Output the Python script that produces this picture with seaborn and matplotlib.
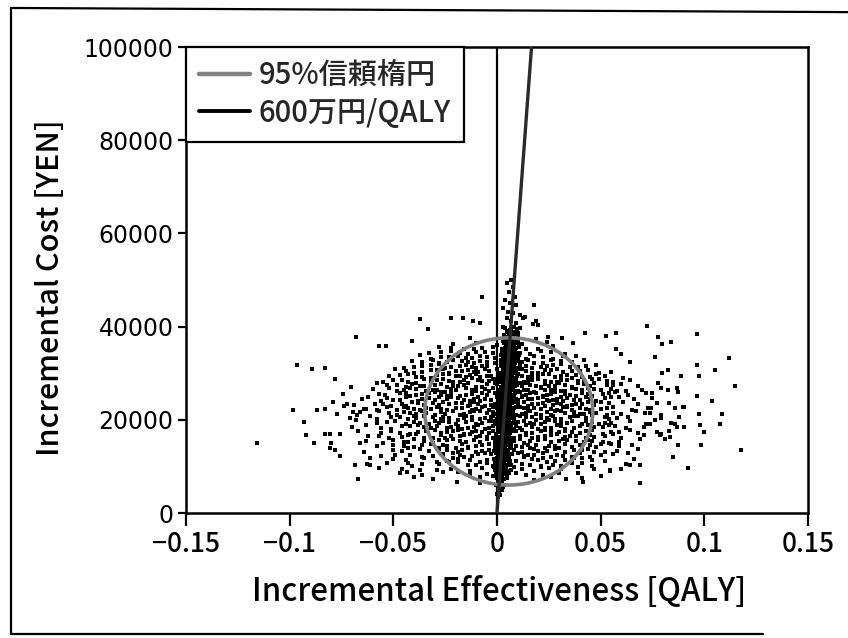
import pandas as pd
import matplotlib
matplotlib.use("Agg")
import matplotlib.pyplot as plt
from matplotlib.patches import Ellipse
from matplotlib.lines import Line2D
import seaborn as sns

# ---------------------------------------------------------------------------
# Probabilistic sensitivity analysis results
# each point: (incremental effectiveness [1e-3 QALY], incremental cost [1000 yen])
# ---------------------------------------------------------------------------
outer_points = [
    (-115.8, 15.0), (-96.6, 31.7), (-89.4, 31.0), (-83.0, 31.1), (-98.3, 22.2),
    (-93.1, 19.5), (-92.0, 16.7), (-88.3, 15.1), (-87.0, 22.2), (-83.0, 22.3),
    (-78.0, 28.8), (-70.6, 27.1), (-74.2, 25.5), (-79.3, 23.9), (-72.5, 23.3),
    (-77.0, 21.2), (-83.0, 16.9), (-80.6, 16.9), (-75.8, 17.0), (-80.0, 15.0),
    (-80.6, 14.0), (-78.0, 13.5), (-75.8, 12.3), (-68.5, 10.2), (-62.6, 10.5),
    (-61.0, 10.2), (-67.2, 7.3), (-42.8, 10.7), (-40.0, 7.8), (-43.6, 8.9),
    (-66.0, 15.0), (-70.0, 18.5), (-69.5, 21.7), (-67.6, 21.0), (-64.0, 22.4),
    (-68.0, 37.8), (-57.0, 35.9), (-53.3, 35.9), (-41.0, 37.0), (-37.2, 41.6),
    (-33.5, 39.5), (-22.0, 41.8), (-16.3, 41.8), (-11.5, 41.1), (-8.3, 40.8),
    (-7.0, 46.4), (-19.5, 6.7), (-8.3, 6.4),
    (72.5, 40.1), (52.8, 38.0), (57.6, 38.6), (77.7, 37.8), (79.8, 36.3),
    (83.8, 36.8), (96.4, 38.4), (112.0, 33.3), (57.6, 35.2), (60.0, 34.1),
    (64.0, 32.5), (76.0, 33.4), (96.4, 31.8), (105.0, 30.7), (88.6, 29.5),
    (97.3, 29.5), (82.3, 30.7), (79.8, 30.0), (115.0, 27.3), (87.0, 26.8),
    (89.6, 22.8), (96.3, 25.1), (103.5, 24.0), (97.3, 21.2), (108.7, 21.2),
    (107.4, 19.0), (99.8, 17.4), (97.7, 18.9), (90.0, 18.5), (87.0, 18.5),
    (85.7, 19.1), (98.5, 14.7), (117.5, 13.5), (92.0, 9.6), (84.9, 12.0),
    (68.8, 6.4), (54.7, 9.1), (64.0, 10.3), (69.0, 10.3), (83.3, 16.4),
    (87.3, 14.7), (79.0, 20.4), (84.0, 19.3), (90.0, 22.7), (78.5, 16.7),
    (77.0, 17.4), (74.5, 22.5), (73.7, 21.4), (71.5, 21.4), (72.0, 19.0),
    (75.0, 25.7), (79.3, 26.8), (82.5, 26.4), (77.7, 27.8), (87.3, 26.0),
    (83.0, 23.6), (86.0, 22.5), (88.0, 20.6), (83.0, 17.6), (79.0, 17.0),
    (81.0, 15.9),
    (17.7, 44.6), (13.4, 42.1), (17.4, 40.6), (19.8, 40.3), (31.6, 37.5),
    (36.7, 36.5), (42.3, 38.6), (24.6, 37.8), (19.0, 41.1),
    (26.2, 7.8), (33.5, 7.4), (41.5, 6.7), (54.4, 9.2),
]

cloud_points = [
    (-31, 7.3), (-8, 7.8), (18, 7.1), (41, 7.6),
    (-47, 8.6), (-26, 8.9), (-13, 8.4), (4, 8.7), (14, 8.2), (30, 8.5), (50, 8.0),
    (-57, 9.7), (-37, 9.2), (-22, 9.5), (-13, 9.0), (-1, 9.3), (8, 9.8), (18, 9.1),
    (25, 9.6), (39, 9.9), (60, 9.4),
    (-53, 10.8), (-41, 10.1), (-28, 10.6), (-19, 10.9), (-10, 10.4), (-5, 10.7),
    (7, 10.2), (12, 10.5), (21, 10.0), (27, 10.3), (36, 10.8), (46, 10.1), (62, 10.6),
    (-61, 11.9), (-44, 11.4), (-35, 11.7), (-24, 11.2), (-19, 11.5), (-8, 11.0),
    (-5, 11.3), (3, 11.8), (9, 11.1), (17, 11.6), (22, 11.9), (33, 11.4), (41, 11.7),
    (52, 11.2), (66, 11.5),
    (-56, 12.2), (-49, 12.5), (-36, 12.0), (-31, 12.3), (-21, 12.8), (-16, 12.1),
    (-9, 12.6), (-6, 12.9), (2, 12.4), (6, 12.7), (13, 12.2), (18, 12.5), (26, 12.0),
    (32, 12.3), (40, 12.8), (45, 12.1), (56, 12.6), (63, 12.9),
    (-64, 13.1), (-50, 13.6), (-43, 13.9), (-33, 13.4), (-28, 13.7), (-19, 13.2),
    (-17, 13.5), (-10, 13.0), (-7, 13.3), (0, 13.8), (5, 13.1), (8, 13.6), (16, 13.9),
    (20, 13.4), (28, 13.7), (33, 13.2), (41, 13.5), (47, 13.0), (58, 13.3), (68, 13.8),
    (-58, 14.4), (-50, 14.7), (-40, 14.2), (-36, 14.5), (-28, 14.0), (-24, 14.3),
    (-17, 14.8), (-14, 14.1), (-7, 14.6), (-4, 14.9), (1, 14.4), (4, 14.7), (12, 14.2),
    (15, 14.5), (23, 14.0), (25, 14.3), (33, 14.8), (36, 14.1), (45, 14.6), (50, 14.9),
    (59, 14.4), (65, 14.7),
    (-63, 15.5), (-55, 15.0), (-45, 15.3), (-40, 15.8), (-31, 15.1), (-28, 15.6),
    (-21, 15.9), (-18, 15.4), (-11, 15.7), (-8, 15.2), (-1, 15.5), (3, 15.0), (5, 15.3),
    (11, 15.8), (13, 15.1), (20, 15.6), (23, 15.9), (30, 15.4), (34, 15.7), (42, 15.2),
    (46, 15.5), (54, 15.0), (59, 15.3), (69, 15.8),
    (-62, 16.6), (-52, 16.1), (-46, 16.4), (-39, 16.9), (-35, 16.2), (-27, 16.7),
    (-25, 16.0), (-18, 16.5), (-16, 16.8), (-10, 16.3), (-8, 16.6), (-2, 16.1),
    (0, 16.4), (6, 16.9), (8, 16.2), (14, 16.7), (17, 16.0), (23, 16.5), (26, 16.8),
    (33, 16.3), (35, 16.6), (43, 16.1), (47, 16.4), (56, 16.9), (60, 16.2), (71, 16.7),
    (-67, 17.7), (-56, 17.2), (-51, 17.5), (-42, 17.0), (-38, 17.3), (-30, 17.8),
    (-27, 17.1), (-21, 17.6), (-19, 17.9), (-12, 17.4), (-10, 17.7), (-4, 17.2),
    (-2, 17.5), (4, 17.0), (6, 17.3), (12, 17.8), (14, 17.1), (21, 17.6), (23, 17.9),
    (30, 17.4), (33, 17.7), (40, 17.2), (43, 17.5), (51, 17.0), (55, 17.3), (64, 17.8),
    (68, 17.1),
    (-63, 18.8), (-51, 18.1), (-46, 18.6), (-38, 18.9), (-35, 18.4), (-29, 18.7),
    (-24, 18.2), (-22, 18.5), (-17, 18.0), (-14, 18.3), (-9, 18.8), (-6, 18.1),
    (-2, 18.6), (1, 18.9), (4, 18.4), (9, 18.7), (11, 18.2), (17, 18.5), (20, 18.0),
    (26, 18.3), (29, 18.8), (33, 18.1), (40, 18.6), (44, 18.9), (51, 18.4), (57, 18.7),
    (62, 18.2), (71, 18.5),
    (-68, 19.9), (-58, 19.4), (-49, 19.7), (-44, 19.2), (-40, 19.5), (-33, 19.0),
    (-28, 19.3), (-26, 19.8), (-20, 19.1), (-15, 19.6), (-12, 19.9), (-7, 19.4),
    (-4, 19.7), (-1, 19.2), (3, 19.5), (6, 19.0), (8, 19.3), (13, 19.8), (18, 19.1),
    (23, 19.6), (25, 19.9), (31, 19.4), (36, 19.7), (41, 19.2), (46, 19.5), (49, 19.0),
    (55, 19.3), (64, 19.8), (74, 19.1),
    (-71, 20.3), (-61, 20.8), (-58, 20.1), (-47, 20.6), (-40, 20.9), (-39, 20.4),
    (-31, 20.7), (-27, 20.2), (-26, 20.5), (-19, 20.0), (-16, 20.3), (-15, 20.8),
    (-8, 20.1), (-3, 20.6), (-2, 20.9), (2, 20.4), (7, 20.7), (8, 20.2), (14, 20.5),
    (19, 20.0), (21, 20.3), (27, 20.8), (28, 20.1), (35, 20.6), (39, 20.9), (43, 20.4),
    (52, 20.7), (54, 20.2), (63, 20.5), (76, 20.0),
    (-66, 21.6), (-57, 21.9), (-52, 21.4), (-45, 21.7), (-39, 21.2), (-34, 21.5),
    (-30, 21.0), (-25, 21.3), (-21, 21.8), (-18, 21.1), (-13, 21.6), (-11, 21.9),
    (-5, 21.4), (-2, 21.7), (1, 21.2), (5, 21.5), (9, 21.0), (12, 21.3), (16, 21.8),
    (21, 21.1), (24, 21.6), (28, 21.9), (33, 21.4), (37, 21.7), (42, 21.2), (48, 21.5),
    (53, 21.0), (60, 21.3), (67, 21.8), (79, 21.1),
    (-74, 22.9), (-63, 22.4), (-53, 22.7), (-48, 22.2), (-43, 22.5), (-37, 22.0),
    (-32, 22.3), (-29, 22.8), (-24, 22.1), (-20, 22.6), (-14, 22.9), (-10, 22.4),
    (-7, 22.7), (-4, 22.2), (0, 22.5), (4, 22.0), (7, 22.3), (11, 22.8), (15, 22.1),
    (18, 22.6), (23, 22.9), (26, 22.4), (32, 22.7), (36, 22.2), (40, 22.5), (45, 22.0),
    (50, 22.3), (56, 22.8), (65, 22.1), (73, 22.6),
    (-69, 23.2), (-59, 23.5), (-51, 23.0), (-46, 23.3), (-41, 23.8), (-35, 23.1),
    (-31, 23.6), (-26, 23.9), (-23, 23.4), (-17, 23.7), (-13, 23.2), (-9, 23.5),
    (-6, 23.0), (-1, 23.3), (2, 23.8), (6, 23.1), (10, 23.6), (13, 23.9), (17, 23.4),
    (22, 23.7), (27, 23.2), (31, 23.5), (34, 23.0), (38, 23.3), (44, 23.8), (47, 23.1),
    (54, 23.6), (61, 23.9), (68, 23.4), (77, 23.7),
    (-65, 24.5), (-56, 24.0), (-50, 24.3), (-44, 24.8), (-38, 24.1), (-33, 24.6),
    (-28, 24.9), (-24, 24.4), (-19, 24.7), (-16, 24.2), (-11, 24.5), (-8, 24.0),
    (-3, 24.3), (0, 24.8), (3, 24.1), (8, 24.6), (12, 24.9), (15, 24.4), (20, 24.7),
    (24, 24.2), (29, 24.5), (32, 24.0), (37, 24.3), (43, 24.8), (48, 24.1), (52, 24.6),
    (59, 24.9), (66, 24.4), (75, 24.7),
    (-62, 25.0), (-54, 25.3), (-47, 25.8), (-42, 25.1), (-36, 25.6), (-30, 25.9),
    (-27, 25.4), (-22, 25.7), (-18, 25.2), (-12, 25.5), (-9, 25.0), (-5, 25.3),
    (-1, 25.8), (2, 25.1), (6, 25.6), (9, 25.9), (14, 25.4), (19, 25.7), (22, 25.2),
    (26, 25.5), (31, 25.0), (35, 25.3), (41, 25.8), (46, 25.1), (51, 25.6), (57, 25.9),
    (63, 25.4), (72, 25.7),
    (-60, 26.6), (-52, 26.9), (-45, 26.4), (-39, 26.7), (-34, 26.2), (-29, 26.5),
    (-25, 26.0), (-20, 26.3), (-15, 26.8), (-10, 26.1), (-6, 26.6), (-2, 26.9),
    (1, 26.4), (5, 26.7), (10, 26.2), (13, 26.5), (18, 26.0), (23, 26.3), (28, 26.8),
    (33, 26.1), (38, 26.6), (44, 26.9), (50, 26.4), (55, 26.7), (62, 26.2), (70, 26.5),
    (-58, 27.9), (-48, 27.4), (-41, 27.7), (-35, 27.2), (-30, 27.5), (-24, 27.0),
    (-19, 27.3), (-14, 27.8), (-10, 27.1), (-5, 27.6), (-1, 27.9), (3, 27.4), (7, 27.7),
    (12, 27.2), (16, 27.5), (21, 27.0), (25, 27.3), (30, 27.8), (36, 27.1), (42, 27.6),
    (47, 27.9), (53, 27.4), (60, 27.7), (68, 27.2),
    (-55, 28.2), (-46, 28.5), (-39, 28.0), (-32, 28.3), (-26, 28.8), (-21, 28.1),
    (-16, 28.6), (-12, 28.9), (-7, 28.4), (-2, 28.7), (2, 28.2), (6, 28.5), (11, 28.0),
    (15, 28.3), (20, 28.8), (26, 28.1), (31, 28.6), (36, 28.9), (42, 28.4), (49, 28.7),
    (56, 28.2), (64, 28.5),
    (-52, 29.3), (-43, 29.8), (-36, 29.1), (-29, 29.6), (-23, 29.9), (-18, 29.4),
    (-13, 29.7), (-8, 29.2), (-3, 29.5), (1, 29.0), (5, 29.3), (10, 29.8), (15, 29.1),
    (20, 29.6), (25, 29.9), (31, 29.4), (38, 29.7), (45, 29.2), (52, 29.5), (61, 29.0),
    (-49, 30.8), (-40, 30.1), (-32, 30.6), (-26, 30.9), (-20, 30.4), (-14, 30.7),
    (-9, 30.2), (-4, 30.5), (1, 30.0), (6, 30.3), (12, 30.8), (17, 30.1), (23, 30.6),
    (29, 30.9), (36, 30.4), (44, 30.7), (55, 30.2),
    (-45, 31.1), (-36, 31.6), (-28, 31.9), (-22, 31.4), (-15, 31.7), (-10, 31.2),
    (-5, 31.5), (0, 31.0), (5, 31.3), (11, 31.8), (17, 31.1), (24, 31.6), (31, 31.9),
    (39, 31.4), (48, 31.7),
    (-41, 32.6), (-31, 32.9), (-24, 32.4), (-17, 32.7), (-11, 32.2), (-5, 32.5),
    (2, 32.0), (8, 32.3), (15, 32.8), (22, 32.1), (31, 32.6), (42, 32.9),
    (-37, 33.9), (-27, 33.4), (-19, 33.7), (-12, 33.2), (-5, 33.5), (3, 33.0),
    (10, 33.3), (18, 33.8), (27, 33.1), (38, 33.6),
    (-33, 34.4), (-22, 34.7), (-14, 34.2), (-6, 34.5), (2, 34.0), (11, 34.3),
    (21, 34.8), (33, 34.1),
    (-28, 35.7), (-16, 35.2), (-7, 35.5), (3, 35.0), (14, 35.3), (27, 35.8),
    (-21, 36.2), (-10, 36.5), (0, 36.0), (12, 36.3), (24, 36.8),
    (-13, 37.5), (4, 37.0), (19, 37.3),
]

core_points = [
    (-36, 8.25), (-19, 8.75), (-5, 8.35), (9, 8.65), (22, 8.15), (39, 8.55),
    (-46, 9.45), (-29, 9.25), (-7, 9.65), (4, 9.15), (12, 9.45), (21, 9.85), (31, 9.35),
    (47, 9.55),
    (-36, 10.45), (-23, 10.95), (-14, 10.25), (-1, 10.75), (3, 10.55), (16, 10.35),
    (24, 10.85), (31, 10.15), (41, 10.65),
    (-50, 11.65), (-29, 11.05), (-21, 11.85), (-13, 11.35), (0, 11.55), (6, 11.25),
    (13, 11.95), (20, 11.45), (28, 11.15), (37, 11.75), (46, 11.35),
    (-42, 12.35), (-26, 12.65), (-18, 12.45), (-12, 12.25), (-3, 12.75), (4, 12.15),
    (10, 12.85), (15, 12.35), (22, 12.95), (29, 12.55), (36, 12.05), (50, 12.45),
    (-46, 13.25), (-37, 13.75), (-24, 13.45), (-14, 13.95), (-4, 13.55), (2, 13.35),
    (12, 13.15), (18, 13.65), (24, 13.25), (30, 13.85), (37, 13.45), (44, 13.65),
    (52, 13.15),
    (-45, 14.35), (-32, 14.85), (-26, 14.55), (-20, 14.05), (-10, 14.45), (-1, 14.25),
    (7, 14.85), (9, 14.35), (19, 14.65), (28, 14.45), (30, 14.05), (40, 14.55),
    (48, 14.25), (55, 14.75),
    (-50, 15.65), (-43, 15.15), (-35, 15.45), (-24, 15.75), (-15, 15.25), (-5, 15.95),
    (0, 15.65), (8, 15.35), (16, 15.45), (26, 15.15), (32, 15.95), (38, 15.55),
    (44, 15.75), (51, 15.25),
    (-57, 16.45), (-43, 16.75), (-31, 16.15), (-22, 16.55), (-13, 16.95), (-5, 16.35),
    (3, 16.65), (11, 16.45), (20, 16.25), (29, 16.95), (38, 16.45), (45, 16.75),
    (52, 16.55),
    (-47, 17.25), (-34, 17.65), (-24, 17.35), (-16, 17.05), (-7, 17.45), (1, 17.85),
    (9, 17.55), (17, 17.25), (26, 17.65), (36, 17.35), (46, 17.85), (59, 17.45),
    (-56, 18.35), (-42, 18.65), (-32, 18.15), (-19, 18.75), (-11, 18.45), (-4, 18.25),
    (7, 18.55), (14, 18.85), (23, 18.35), (31, 18.65), (37, 18.25), (47, 18.45),
    (54, 18.95),
    (-53, 19.55), (-37, 19.25), (-30, 19.75), (-23, 19.45), (-10, 19.05), (-2, 19.85),
    (10, 19.55), (16, 19.35), (21, 19.15), (28, 19.75), (34, 19.35), (43, 19.65),
    (52, 19.25),
    (-51, 20.55), (-43, 20.15), (-35, 20.85), (-23, 20.45), (-12, 20.65), (-6, 20.35),
    (4, 20.15), (11, 20.85), (17, 20.55), (24, 20.45), (31, 20.25), (37, 20.75),
    (46, 20.95), (58, 20.35),
    (-48, 21.05), (-42, 21.45), (-36, 21.85), (-27, 21.65), (-16, 21.25), (-8, 21.95),
    (-1, 21.35), (7, 21.75), (14, 21.55), (19, 21.25), (26, 21.05), (31, 21.85),
    (40, 21.35), (45, 21.65), (56, 21.45),
    (-58, 22.15), (-45, 22.65), (-40, 22.35), (-34, 22.55), (-27, 22.25), (-17, 22.45),
    (-12, 22.05), (-2, 22.85), (2, 22.35), (9, 22.65), (13, 22.45), (21, 22.25),
    (29, 22.05), (34, 22.75), (43, 22.35), (53, 22.55),
    (-55, 23.45), (-44, 23.05), (-38, 23.65), (-28, 23.25), (-20, 23.55), (-11, 23.85),
    (-3, 23.15), (4, 23.45), (8, 23.75), (15, 23.05), (20, 23.35), (25, 23.95),
    (29, 23.55), (36, 23.15), (41, 23.45), (50, 23.75),
    (-53, 24.65), (-47, 24.15), (-36, 24.45), (-30, 24.25), (-22, 24.85), (-13, 24.05),
    (-6, 24.55), (1, 24.35), (6, 24.75), (10, 24.25), (17, 24.55), (22, 24.95),
    (27, 24.35), (34, 24.65), (40, 24.15), (45, 24.45), (55, 24.85),
    (-57, 25.45), (-44, 25.65), (-39, 25.25), (-33, 25.75), (-24, 25.05), (-15, 25.35),
    (-7, 25.85), (0, 25.55), (4, 25.25), (12, 25.05), (16, 25.65), (24, 25.35),
    (28, 25.95), (33, 25.55), (38, 25.15), (44, 25.45), (54, 25.75),
    (-48, 26.25), (-42, 26.75), (-31, 26.45), (-27, 26.05), (-22, 26.65), (-12, 26.35),
    (-4, 26.15), (3, 26.85), (7, 26.55), (11, 26.05), (15, 26.35), (21, 26.75),
    (26, 26.45), (31, 26.25), (36, 26.85), (41, 26.35), (47, 26.55), (58, 26.15),
    (-53, 27.55), (-44, 27.05), (-37, 27.35), (-27, 27.65), (-21, 27.25), (-16, 27.45),
    (-7, 27.05), (0, 27.75), (5, 27.25), (9, 27.55), (14, 27.85), (19, 27.35),
    (23, 27.65), (28, 27.15), (33, 27.45), (39, 27.85), (45, 27.35), (56, 27.55),
    (-50, 28.45), (-43, 28.05), (-35, 28.75), (-29, 28.55), (-23, 28.35), (-18, 28.05),
    (-9, 28.65), (-4, 28.25), (0, 28.85), (9, 28.45), (13, 28.15), (17, 28.65),
    (23, 28.35), (29, 28.05), (34, 28.55), (39, 28.25), (46, 28.85), (53, 28.35),
    (-47, 29.55), (-39, 29.25), (-32, 29.05), (-26, 29.75), (-20, 29.35), (-15, 29.15),
    (-10, 29.85), (-5, 29.45), (3, 29.65), (7, 29.05), (12, 29.45), (17, 29.35),
    (22, 29.75), (28, 29.25), (34, 29.55), (41, 29.15), (48, 29.85),
    (-44, 30.45), (-36, 30.25), (-29, 30.75), (-23, 30.15), (-17, 30.55), (-11, 30.35),
    (-6, 30.85), (3, 30.65), (9, 30.25), (14, 30.45), (20, 30.15), (26, 30.75),
    (32, 30.35), (40, 30.55), (49, 30.05),
    (-40, 31.35), (-32, 31.85), (-25, 31.15), (-18, 31.55), (-12, 31.25), (-7, 31.65),
    (2, 31.45), (8, 31.15), (14, 31.55), (21, 31.35), (27, 31.75), (35, 31.25),
    (43, 31.55),
    (-36, 32.45), (-28, 32.15), (-21, 32.75), (-14, 32.35), (-8, 32.55), (-1, 32.25),
    (5, 32.65), (12, 32.45), (18, 32.15), (26, 32.75), (36, 32.35),
    (-32, 33.15), (-23, 33.55), (-15, 33.35), (-8, 33.75), (-1, 33.25), (7, 33.55),
    (14, 33.15), (22, 33.45), (32, 33.75),
    (-27, 34.55), (-18, 34.25), (-10, 34.65), (-2, 34.35), (7, 34.55), (16, 34.15),
    (26, 34.45),
    (-22, 35.45), (-11, 35.15), (-2, 35.65), (8, 35.35), (20, 35.15),
]

band_points = [
    (0.5, 3.4), (1.5, 3.8), (0.2, 4.1), (1.2, 4.6), (2.4, 4.9),
    (0.4, 5.7), (1.8, 5.2), (3.1, 5.5), (-0.3, 6.0), (1.0, 6.3), (2.2, 6.8), (3.6, 6.1),
    (0.0, 7.6), (0.9, 7.9), (1.6, 7.4), (2.5, 7.7), (3.3, 7.2), (4.6, 7.5),
    (-1.9, 8.0), (-0.6, 8.3), (0.3, 8.8), (1.0, 8.1), (1.6, 8.6), (2.3, 8.9), (3.1, 8.4),
    (3.9, 8.7), (4.8, 8.2), (6.0, 8.5),
    (-1.2, 9.8), (0.0, 9.1), (0.8, 9.6), (1.5, 9.9), (2.2, 9.4), (2.8, 9.7), (3.6, 9.2),
    (4.5, 9.5), (5.5, 9.0), (6.6, 9.3),
    (-1.7, 10.1), (-0.6, 10.6), (0.4, 10.9), (1.2, 10.4), (1.8, 10.7), (2.3, 10.2),
    (3.1, 10.5), (4.0, 10.0), (4.9, 10.3), (6.0, 10.8),
    (-1.4, 11.6), (-0.1, 11.9), (0.8, 11.4), (1.5, 11.7), (2.1, 11.2), (2.8, 11.5),
    (3.6, 11.0), (4.4, 11.3), (5.3, 11.8), (6.5, 11.1),
    (-0.7, 12.9), (0.5, 12.4), (1.3, 12.7), (2.0, 12.2), (2.7, 12.5), (3.3, 12.0),
    (4.1, 12.3), (5.0, 12.8), (6.0, 12.1), (7.1, 12.6),
    (-1.2, 13.4), (-0.1, 13.7), (0.9, 13.2), (1.7, 13.5), (2.3, 13.0), (2.8, 13.3),
    (3.6, 13.8), (4.5, 13.1), (5.4, 13.6), (6.5, 13.9),
    (-0.9, 14.7), (0.4, 14.2), (1.3, 14.5), (2.0, 14.0), (2.6, 14.3), (3.3, 14.8),
    (4.1, 14.1), (4.9, 14.6), (5.8, 14.9), (7.0, 14.4),
    (-0.2, 15.2), (1.0, 15.5), (1.8, 15.0), (2.5, 15.3), (3.2, 15.8), (3.8, 15.1),
    (4.6, 15.6), (5.5, 15.9), (6.5, 15.4), (7.6, 15.7),
    (-0.7, 16.5), (0.4, 16.0), (1.4, 16.3), (2.2, 16.8), (2.8, 16.1), (3.3, 16.6),
    (4.1, 16.9), (5.0, 16.4), (5.9, 16.7), (7.0, 16.2),
    (-0.4, 17.0), (0.9, 17.3), (1.8, 17.8), (2.5, 17.1), (3.1, 17.6), (3.8, 17.9),
    (4.6, 17.4), (5.4, 17.7), (6.3, 17.2), (7.5, 17.5),
    (0.3, 18.3), (1.5, 18.8), (2.3, 18.1), (3.0, 18.6), (3.7, 18.9), (4.3, 18.4),
    (5.1, 18.7), (6.0, 18.2), (7.0, 18.5), (8.1, 18.0),
    (-0.2, 19.8), (0.9, 19.1), (1.9, 19.6), (2.7, 19.9), (3.3, 19.4), (3.8, 19.7),
    (4.6, 19.2), (5.5, 19.5), (6.4, 19.0), (7.5, 19.3),
    (0.1, 20.1), (1.4, 20.6), (2.3, 20.9), (3.0, 20.4), (3.6, 20.7), (4.3, 20.2),
    (5.1, 20.5), (5.9, 20.0), (6.8, 20.3), (8.0, 20.8),
    (0.8, 21.6), (2.0, 21.9), (2.8, 21.4), (3.5, 21.7), (4.2, 21.2), (4.8, 21.5),
    (5.6, 21.0), (6.5, 21.3), (7.5, 21.8), (8.6, 21.1),
    (0.3, 22.9), (1.4, 22.4), (2.4, 22.7), (3.2, 22.2), (3.8, 22.5), (4.3, 22.0),
    (5.1, 22.3), (6.0, 22.8), (6.9, 22.1), (8.0, 22.6),
    (0.6, 23.4), (1.9, 23.7), (2.8, 23.2), (3.5, 23.5), (4.1, 23.0), (4.8, 23.3),
    (5.6, 23.8), (6.4, 23.1), (7.3, 23.6), (8.5, 23.9),
    (1.3, 24.7), (2.5, 24.2), (3.3, 24.5), (4.0, 24.0), (4.7, 24.3), (5.3, 24.8),
    (6.1, 24.1), (7.0, 24.6), (8.0, 24.9), (9.1, 24.4),
    (0.8, 25.2), (1.9, 25.5), (2.9, 25.0), (3.7, 25.3), (4.3, 25.8), (4.8, 25.1),
    (5.6, 25.6), (6.5, 25.9), (7.4, 25.4), (8.5, 25.7),
    (1.1, 26.5), (2.4, 26.0), (3.3, 26.3), (4.0, 26.8), (4.6, 26.1), (5.3, 26.6),
    (6.1, 26.9), (6.9, 26.4), (7.8, 26.7), (9.0, 26.2),
    (1.8, 27.0), (3.0, 27.3), (3.8, 27.8), (4.5, 27.1), (5.2, 27.6), (5.8, 27.9),
    (6.6, 27.4), (7.5, 27.7), (8.5, 27.2), (9.6, 27.5),
    (1.3, 28.3), (2.4, 28.8), (3.4, 28.1), (4.2, 28.6), (4.8, 28.9), (5.3, 28.4),
    (6.1, 28.7), (7.0, 28.2), (7.9, 28.5), (9.0, 28.0),
    (1.6, 29.8), (2.9, 29.1), (3.8, 29.6), (4.5, 29.9), (5.1, 29.4), (5.8, 29.7),
    (6.6, 29.2), (7.4, 29.5), (8.3, 29.0), (9.5, 29.3),
    (2.3, 30.1), (3.5, 30.6), (4.3, 30.9), (5.0, 30.4), (5.7, 30.7), (6.3, 30.2),
    (7.1, 30.5), (8.0, 30.0), (9.0, 30.3), (10.1, 30.8),
    (1.8, 31.6), (2.9, 31.9), (3.9, 31.4), (4.7, 31.7), (5.3, 31.2), (5.8, 31.5),
    (6.6, 31.0), (7.5, 31.3), (8.4, 31.8), (9.5, 31.1),
    (2.1, 32.9), (3.4, 32.4), (4.3, 32.7), (5.0, 32.2), (5.6, 32.5), (6.3, 32.0),
    (7.1, 32.3), (7.9, 32.8), (8.8, 32.1), (10.0, 32.6),
    (2.8, 33.4), (4.0, 33.7), (4.8, 33.2), (5.5, 33.5), (6.2, 33.0), (6.8, 33.3),
    (7.6, 33.8), (8.5, 33.1), (9.5, 33.6), (10.6, 33.9),
    (2.3, 34.7), (3.4, 34.2), (4.4, 34.5), (5.2, 34.0), (5.8, 34.3), (6.3, 34.8),
    (7.1, 34.1), (8.0, 34.6), (8.9, 34.9), (10.0, 34.4),
    (2.6, 35.2), (3.9, 35.5), (4.8, 35.0), (5.5, 35.3), (6.1, 35.8), (6.8, 35.1),
    (7.6, 35.6), (8.4, 35.9), (9.3, 35.4), (10.5, 35.7),
    (3.3, 36.5), (4.5, 36.0), (5.3, 36.3), (6.0, 36.8), (6.7, 36.1), (7.3, 36.6),
    (8.1, 36.9), (9.0, 36.4), (10.0, 36.7), (11.1, 36.2),
    (3.1, 37.0), (4.4, 37.3), (5.3, 37.8), (6.0, 37.1), (6.9, 37.6), (7.8, 37.9),
    (8.9, 37.4), (10.2, 37.7),
    (3.4, 38.3), (4.6, 38.8), (5.7, 38.1), (6.6, 38.6), (7.5, 38.9), (8.6, 38.4),
    (10.0, 38.7),
    (4.0, 39.8), (5.5, 39.1), (6.9, 39.6), (8.2, 39.9), (9.8, 39.4),
    (7.0, 50.0), (4.6, 49.3), (7.8, 48.6), (5.8, 47.5), (8.6, 46.4), (3.8, 45.7),
    (6.2, 45.0), (9.4, 44.6), (3.0, 43.9), (5.4, 43.2), (7.8, 42.9), (11.0, 42.5),
    (4.6, 41.8), (7.0, 41.1), (9.4, 40.7), (12.6, 41.8), (3.0, 40.0), (6.2, 39.3),
    (8.6, 38.9), (11.0, 39.6),
]

# willingness-to-pay threshold and 95% confidence ellipse
wtp_yen_per_qaly = 6_000_000
ellipse_center = (0.0057, 21800)
ellipse_width = 0.081
ellipse_height = 31600

x_ticks = [-0.15, -0.1, -0.05, 0, 0.05, 0.1, 0.15]
x_tick_labels = ["\u22120.15", "\u22120.1", "\u22120.05", "0", "0.05", "0.1", "0.15"]
y_ticks = [0, 20000, 40000, 60000, 80000, 100000]
y_tick_labels = ["0", "20000", "40000", "60000", "80000", "100000"]

legend_ellipse = "95%信頼楕円"
legend_wtp = "600万円/QALY"
x_label = "Incremental Effectiveness [QALY]"
y_label = "Incremental Cost [YEN]"

# ---------------------------------------------------------------------------
sns.set_theme(style="white")
plt.rcParams["font.family"] = ["Noto Sans CJK JP", "DejaVu Sans"]

df = pd.DataFrame(outer_points + cloud_points + core_points + band_points,
                  columns=["effect_mqaly", "cost_kyen"])
df["effect"] = df["effect_mqaly"] / 1000.0
df["cost"] = df["cost_kyen"] * 1000.0

fig = plt.figure(figsize=(8.48, 6.38), dpi=100)
ax = fig.add_axes([0.2193, 0.1959, 0.7335, 0.7304])

sns.scatterplot(data=df, x="effect", y="cost", ax=ax, marker="s", s=6.5,
                color="black", linewidth=0, zorder=2, legend=False)

# vertical reference line at zero effect
ax.axvline(0, color="black", lw=1.6, zorder=3)

ax.add_patch(Ellipse(ellipse_center, ellipse_width, ellipse_height,
                     fill=False, edgecolor="#808080", lw=2.6, zorder=4))

wtp_line = pd.DataFrame({"cost": [0, y_ticks[-1]]})
wtp_line["effect"] = wtp_line["cost"] / wtp_yen_per_qaly
sns.lineplot(data=wtp_line, x="effect", y="cost", ax=ax, color="#2a2a2a",
             lw=2.4, zorder=5, sort=False, legend=False)

ax.set_xlim(x_ticks[0], x_ticks[-1])
ax.set_ylim(y_ticks[0], y_ticks[-1])
ax.set_xticks(x_ticks, x_tick_labels)
ax.set_yticks(y_ticks, y_tick_labels)
ax.tick_params(axis="x", direction="out", length=9, width=1.6, pad=4,
               labelsize=19, colors="black", bottom=True)
ax.tick_params(axis="y", direction="out", length=6, width=1.6, pad=3,
               labelsize=17, colors="black", left=True)
for lbl in ax.get_yticklabels():
    lbl.set_fontfamily(["DejaVu Sans"])
for lbl in ax.get_xticklabels():
    lbl.set_fontweight("medium")
for sp in ax.spines.values():
    sp.set_color("black")
    sp.set_linewidth(1.8)

ax.set_xlabel(x_label, fontsize=22.5, color="black", fontweight="medium")
ax.set_ylabel(y_label, fontsize=22, color="black", fontweight="medium")
ax.xaxis.label.set_va("center")
ax.yaxis.label.set_va("center")
ax.xaxis.set_label_coords(0.503, -0.170)
ax.yaxis.set_label_coords(-0.217, 0.483)

handles = [Line2D([], [], color="#808080", lw=3.2),
           Line2D([], [], color="black", lw=2.8)]
leg = ax.legend(handles, [legend_ellipse, legend_wtp], loc="upper left",
                bbox_to_anchor=(0, 1), borderaxespad=0,
                prop={"size": 21, "weight": "medium"},
                frameon=True, fancybox=False, framealpha=1, edgecolor="black",
                handlelength=1.75, handletextpad=0.3, labelspacing=0.22,
                borderpad=0.45)
leg.get_frame().set_linewidth(1.6)
leg.set_zorder(10)

# outer frame around the figure
for xs, ys in [([0.013, 0.013], [0.006, 0.9875]),
               ([0.013, 1.0], [0.9875, 0.981]),
               ([0.013, 0.9], [0.006, 0.006])]:
    fig.add_artist(Line2D(xs, ys, color="black", lw=1.6,
                          transform=fig.transFigure))

fig.savefig("out.png", dpi=100)
